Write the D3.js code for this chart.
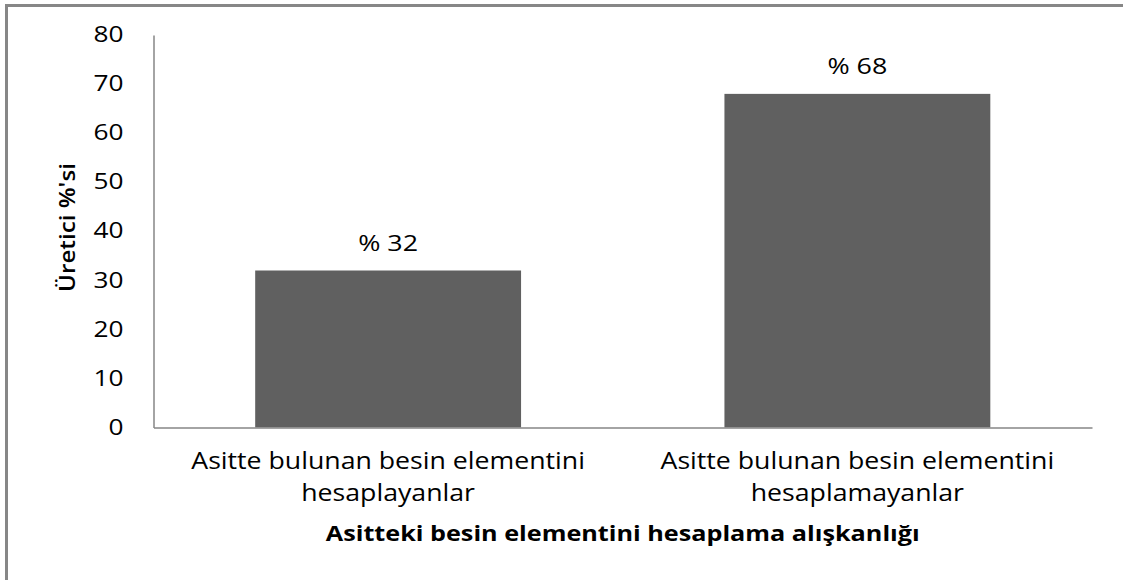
<!DOCTYPE html>
<html><head><meta charset="utf-8">
<script src="https://cdn.jsdelivr.net/npm/d3@7"></script>
<style>
html,body{margin:0;padding:0;background:#fff;}
svg{display:block;}
text{font-family:"Open Sans","Noto Sans",sans-serif;fill:#000;}
</style></head>
<body>
<svg id="c" width="1123" height="580"></svg>
<script>
const categories = [
  ["Asitte bulunan besin elementini", "hesaplayanlar"],
  ["Asitte bulunan besin elementini", "hesaplamayanlar"]
];
const values = [32, 68];
const valueLabels = ["% 32", "% 68"];
const yTicks = [0, 10, 20, 30, 40, 50, 60, 70, 80];
const yTitle = "Üretici %'si";
const xTitle = "Asitteki besin elementini hesaplama alışkanlığı";

const svg = d3.select("#c");
const mLeft = 153.5, mRight = 1092, mTop = 35, mBottom = 427.5;

// horizontally widen text glyphs like the reference rendering
function widen(sel, k){
  sel.each(function(){
    const w = this.getComputedTextLength();
    d3.select(this).attr("textLength", w*k).attr("lengthAdjust","spacingAndGlyphs");
  });
}

// frame border (left & top)
svg.append("path").attr("d","M6.5,580 V5.5 H1123").attr("fill","none").attr("stroke","#878787").attr("stroke-width",3);

const x = d3.scaleBand().domain(d3.range(values.length)).range([mLeft, mRight]).paddingInner(0.4334).paddingOuter(0.2167);
const y = d3.scaleLinear().domain([0, 80]).range([mBottom, mTop]);

// bars
svg.selectAll("rect.bar").data(values).join("rect")
  .attr("class","bar")
  .attr("x",(d,i)=>x(i)).attr("width",x.bandwidth())
  .attr("y",d=>y(d)).attr("height",d=>y(0)-y(d))
  .attr("fill","#606060");

// y axis
const yAxis = d3.axisLeft(y).tickValues(yTicks).tickSize(0).tickPadding(30);
const gy = svg.append("g").attr("transform",`translate(${mLeft},0)`).call(yAxis);
gy.select(".domain").attr("stroke","#868686").attr("stroke-width",1.5);
gy.selectAll("text").attr("font-size",21).attr("font-family","Open Sans").attr("fill","#111");
widen(gy.selectAll("text"), 1.25);

// x axis
const xAxis = d3.axisBottom(x).tickSize(0).tickFormat("");
const gx = svg.append("g").attr("transform",`translate(0,${mBottom})`).call(xAxis);
gx.select(".domain").attr("stroke","#868686").attr("stroke-width",1.5);

// category labels
categories.forEach((lines,i)=>{
  lines.forEach((l,j)=>{
    const t = svg.append("text").attr("class","cat").attr("text-anchor","middle").attr("font-size",23).attr("fill","#111")
      .attr("x", x(i)+x.bandwidth()/2).attr("y", 469 + j*32).text(l);
  });
});
widen(svg.selectAll("text.cat"), 1.16);

// value labels
svg.selectAll("text.val").data(values).join("text").attr("class","val")
  .attr("text-anchor","middle").attr("font-size",22).attr("fill","#111")
  .attr("x",(d,i)=>x(i)+x.bandwidth()/2).attr("y",d=>y(d)-20)
  .text((d,i)=>valueLabels[i]);
widen(svg.selectAll("text.val"), 1.22);

// axis titles
const xt = svg.append("text").attr("text-anchor","middle").attr("font-size",21).attr("font-weight","bold")
  .attr("x",(mLeft+mRight)/2).attr("y",541).text(xTitle);
widen(xt, 1.2);
const yt = svg.append("text").attr("text-anchor","middle").attr("font-size",21).attr("font-weight",600)
  .attr("transform",`translate(75,${(163+292)/2}) rotate(-90)`).text(yTitle);
yt.attr("textLength",129).attr("lengthAdjust","spacingAndGlyphs");
</script>
</body></html>
